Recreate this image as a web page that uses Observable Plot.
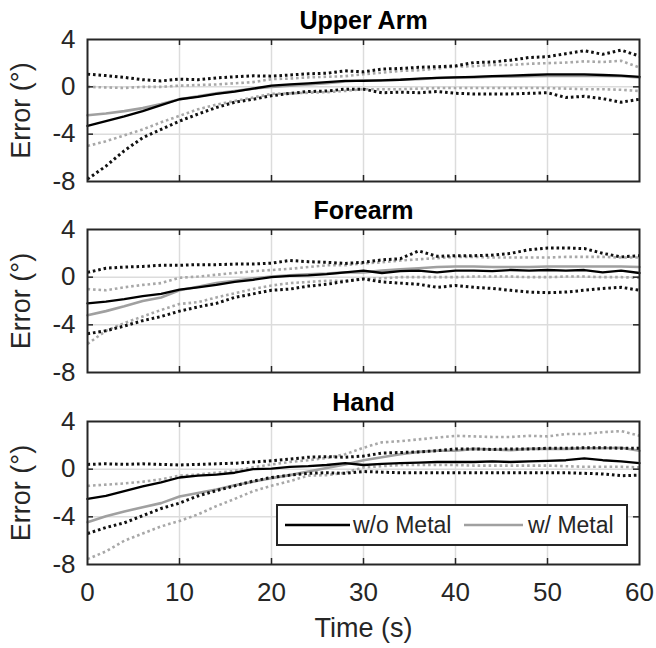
<!DOCTYPE html>
<html><head><meta charset="utf-8">
<script src="https://cdn.jsdelivr.net/npm/d3@7"></script>
<script src="https://cdn.jsdelivr.net/npm/@observablehq/plot@0.6"></script>
<style>
body{margin:0;background:#fff;}
#chart{position:relative;width:656px;height:648px;background:#fff;}
#chart svg{display:block;}
</style></head><body><div id="chart"></div>
<script>
// ---- data ----
const time = [0,2,4,6,8,10,12,14,16,18,20,22,24,26,28,30,32,34,36,38,40,42,44,46,48,50,52,54,56,58,60];
const xTicks = [0,10,20,30,40,50,60];
const yTicks = [-8,-4,0,4];
const panelTitles = ["Upper Arm","Forearm","Hand"];
const seriesNames = ["w/o Metal","w/ Metal"];

// Upper Arm
const uaWoMean  = [-3.3,-2.9,-2.5,-2.05,-1.55,-1.05,-0.85,-0.6,-0.4,-0.15,0.1,0.2,0.3,0.4,0.5,0.5,0.55,0.6,0.7,0.75,0.8,0.85,0.9,0.95,1.0,1.05,1.05,1.05,1.0,0.95,0.85];
const uaWoUpper = [1.07,0.95,0.8,0.6,0.5,0.65,0.6,0.75,0.85,0.93,0.9,1.0,1.1,1.15,1.35,1.27,1.5,1.55,1.65,1.7,1.77,2.05,2.1,2.25,2.48,2.55,2.8,3.05,2.75,3.1,2.6];
const uaWoLower = [-7.8,-6.7,-5.4,-4.3,-3.6,-2.9,-2.3,-1.75,-1.3,-1.05,-0.75,-0.55,-0.4,-0.35,-0.2,-0.2,-0.5,-0.45,-0.5,-0.4,-0.55,-0.6,-0.6,-0.6,-0.55,-0.5,-0.9,-0.8,-1.0,-1.3,-1.05];
const uaWMean   = [-2.4,-2.25,-2.05,-1.8,-1.45,-1.05,-0.8,-0.55,-0.35,-0.15,0.0,0.1,0.2,0.3,0.45,0.55,0.55,0.6,0.65,0.75,0.8,0.8,0.85,0.85,0.9,0.93,0.93,0.95,0.93,0.9,0.8];
const uaWUpper  = [0.0,-0.05,-0.1,0.0,0.0,0.1,0.15,0.2,0.3,0.4,0.65,0.7,0.8,0.85,0.9,1.07,1.2,1.35,1.4,1.55,1.7,1.75,1.85,1.85,1.95,2.0,2.05,2.15,2.1,2.2,1.63];
const uaWLower  = [-5.0,-4.6,-4.1,-3.6,-3.0,-2.45,-1.9,-1.5,-1.2,-0.9,-0.6,-0.55,-0.5,-0.45,-0.35,-0.2,-0.2,-0.2,-0.15,-0.1,-0.1,-0.1,-0.1,-0.1,-0.1,-0.1,-0.15,-0.2,-0.2,-0.25,-0.35];

// Forearm
const faWoMean  = [-2.2,-2.05,-1.85,-1.6,-1.4,-1.05,-0.85,-0.65,-0.4,-0.22,0.0,0.1,0.15,0.25,0.4,0.55,0.35,0.5,0.55,0.4,0.55,0.55,0.5,0.6,0.55,0.6,0.55,0.6,0.4,0.55,0.35];
const faWoUpper = [0.4,0.75,0.85,0.9,1.0,1.0,1.05,1.05,1.1,1.1,1.18,1.4,1.3,1.25,1.15,1.25,1.45,1.55,2.2,1.75,1.8,1.8,1.85,2.0,2.3,2.45,2.45,2.4,2.0,1.7,1.8];
const faWoLower = [-4.75,-4.5,-4.1,-3.65,-3.3,-2.85,-2.5,-2.2,-1.7,-1.4,-1.1,-1.0,-0.75,-0.6,-0.35,-0.15,-0.4,-0.5,-0.6,-0.85,-0.7,-0.85,-0.95,-1.1,-1.25,-1.3,-1.25,-1.1,-0.95,-0.85,-1.1];
const faWMean   = [-3.2,-2.85,-2.45,-2.0,-1.7,-1.1,-0.8,-0.5,-0.3,-0.1,0.05,0.15,0.25,0.3,0.4,0.4,0.55,0.65,0.75,0.85,0.9,0.9,0.85,0.85,0.85,0.9,0.9,0.9,0.9,0.9,0.85];
const faWUpper  = [-1.0,-1.1,-0.85,-0.65,-0.5,-0.05,0.05,0.2,0.35,0.5,0.6,0.7,0.85,1.0,1.0,1.15,1.25,1.4,1.5,1.6,1.7,1.7,1.65,1.65,1.65,1.65,1.7,1.7,1.7,1.65,1.65];
const faWLower  = [-5.6,-4.5,-3.85,-3.3,-2.75,-2.25,-2.1,-1.7,-1.35,-1.0,-0.7,-0.5,-0.4,-0.3,-0.3,-0.15,-0.1,0.0,0.0,0.0,0.0,0.05,0.05,0.05,0.0,0.0,0.05,0.05,0.0,0.0,-0.05];

// Hand
const hdWoMean  = [-2.5,-2.25,-1.85,-1.45,-1.1,-0.7,-0.55,-0.45,-0.3,0.0,0.05,0.2,0.25,0.35,0.5,0.35,0.45,0.5,0.55,0.6,0.6,0.6,0.65,0.6,0.65,0.7,0.75,0.9,0.75,0.65,0.5];
const hdWoUpper = [0.4,0.45,0.4,0.45,0.4,0.35,0.4,0.45,0.5,0.6,0.7,0.85,1.0,1.05,1.0,1.1,1.35,1.4,1.45,1.55,1.7,1.7,1.65,1.7,1.7,1.75,1.75,1.8,1.8,1.75,1.75];
const hdWoLower = [-5.4,-4.9,-4.5,-3.9,-3.3,-2.85,-2.25,-1.8,-1.4,-1.0,-0.7,-0.5,-0.35,-0.3,-0.35,-0.2,-0.25,-0.3,-0.3,-0.3,-0.3,-0.3,-0.3,-0.3,-0.3,-0.3,-0.3,-0.35,-0.4,-0.55,-0.5];
const hdWMean   = [-4.45,-3.95,-3.55,-3.2,-2.85,-2.3,-2.0,-1.7,-1.35,-1.05,-0.75,-0.5,-0.2,0.1,0.4,0.75,1.0,1.25,1.45,1.55,1.55,1.7,1.65,1.6,1.7,1.7,1.7,1.75,1.75,1.8,1.55];
const hdWUpper  = [-1.4,-1.3,-1.2,-1.05,-0.85,-0.55,-0.45,-0.3,-0.15,0.15,0.4,0.6,0.75,0.95,1.25,1.8,2.25,2.35,2.5,2.65,2.8,2.75,2.7,2.7,2.8,2.75,2.95,2.95,3.1,3.2,2.8];
const hdWLower  = [-7.55,-6.9,-6.0,-5.4,-4.8,-4.35,-3.8,-3.1,-2.5,-1.85,-1.4,-1.0,-0.55,-0.5,-0.3,0.15,0.25,0.35,0.35,0.35,0.35,0.3,0.3,0.3,0.3,0.3,0.25,0.2,0.2,0.2,0.15];

const panels = [
  {title: panelTitles[0], woMean: uaWoMean, woUpper: uaWoUpper, woLower: uaWoLower, wMean: uaWMean, wUpper: uaWUpper, wLower: uaWLower},
  {title: panelTitles[1], woMean: faWoMean, woUpper: faWoUpper, woLower: faWoLower, wMean: faWMean, wUpper: faWUpper, wLower: faWLower},
  {title: panelTitles[2], woMean: hdWoMean, woUpper: hdWoUpper, woLower: hdWoLower, wMean: hdWMean, wUpper: hdWUpper, wLower: hdWLower}
];

// ---- layout / style ----
const FONT = "'Liberation Sans', Arial, Helvetica, sans-serif";
const AXIS = "#262626";
const GRAY = "#a0a0a0";
const GRAYDOT = "#a8a8a8";
const GRID = "#dcdcdc";
const layouts = [
  {height: 200, marginTop: 39, marginBottom: 19},
  {height: 192, marginTop: 29, marginBottom: 20},
  {height: 256, marginTop: 29, marginBottom: 84}
];
const fmt = d => String(d);

function makePanel(p, L, last) {
  const H = L.height - L.marginTop - L.marginBottom;
  const rows = (arr) => time.map((t, i) => ({t, v: arr[i]}));
  const dotted = {strokeWidth: 3, strokeDasharray: "2.6 2.9", strokeLinecap: "butt"};
  const inner = xTicks.slice(1, -1);
  const innerY = yTicks.slice(1, -1);
  const marks = [
    Plot.ruleX(inner, {stroke: GRID, strokeWidth: 1.5}),
    Plot.ruleY(innerY, {stroke: GRID, strokeWidth: 1.5}),
    Plot.line(rows(p.wMean), {x: "t", y: "v", stroke: GRAY, strokeWidth: 2.6}),
    Plot.line(rows(p.wUpper), {x: "t", y: "v", stroke: GRAYDOT, ...dotted, strokeWidth: 2.6}),
    Plot.line(rows(p.wLower), {x: "t", y: "v", stroke: GRAYDOT, ...dotted, strokeWidth: 2.6}),
    Plot.line(rows(p.woMean), {x: "t", y: "v", stroke: "#000", strokeWidth: 2.3}),
    Plot.line(rows(p.woUpper), {x: "t", y: "v", stroke: "#111", ...dotted}),
    Plot.line(rows(p.woLower), {x: "t", y: "v", stroke: "#111", ...dotted}),
    // inward ticks (MATLAB box style)
    Plot.ruleX(inner, {stroke: AXIS, strokeWidth: 1.5, insetTop: H - 6}),
    Plot.ruleX(inner, {stroke: AXIS, strokeWidth: 1.5, insetBottom: H - 6}),
    Plot.ruleY(innerY, {stroke: AXIS, strokeWidth: 1.5, insetRight: 552 - 6}),
    Plot.ruleY(innerY, {stroke: AXIS, strokeWidth: 1.5, insetLeft: 552 - 6}),
    Plot.frame({stroke: AXIS, strokeWidth: 2}),
    Plot.axisY(yTicks, {tickSize: 0, tickPadding: 12, tickFormat: fmt, label: null, fill: AXIS, fontSize: 26}),
    last
      ? Plot.axisX(xTicks, {tickSize: 0, tickPadding: 18, tickFormat: fmt, label: null, fill: AXIS, fontSize: 26})
      : Plot.axisX([], {tickSize: 0, label: null}),
    Plot.text([p.title], {frameAnchor: "top", lineAnchor: "middle", textAnchor: "middle", dy: -19, fontWeight: "bold", fontSize: 25, fill: "#000"}),
    Plot.text(["Error (°)"], {frameAnchor: "left", lineAnchor: "middle", textAnchor: "middle", dx: -66, rotate: -90, fontSize: 27, fill: AXIS})
  ];
  if (last) marks.push(Plot.text(["Time (s)"], {frameAnchor: "bottom", lineAnchor: "middle", textAnchor: "middle", dy: 64, fontSize: 27, fill: AXIS}));
  return Plot.plot({
    width: 656, height: L.height,
    marginLeft: 87, marginRight: 17, marginTop: L.marginTop, marginBottom: L.marginBottom,
    style: {fontFamily: FONT, fontSize: "26px", color: AXIS, background: "#fff", overflow: "visible"},
    x: {domain: [0, 60]},
    y: {domain: [-8, 4]},
    marks
  });
}

const chart = document.getElementById("chart");
const svgs = panels.map((p, i) => {
  const s = makePanel(p, layouts[i], i === panels.length - 1);
  chart.appendChild(s);
  return s;
});

// legend inside the Hand panel (bottom-right of the frame)
{
  const L = layouts[2];
  const svg = d3.select(svgs[2]);
  const frameRight = 656 - 17, frameBottom = L.height - L.marginBottom;
  const bx = frameRight - 362, by = frameBottom - 59, bw = 350, bh = 40;
  const g = svg.append("g").attr("font-family", FONT).attr("font-size", 23).attr("text-anchor", "start");
  g.append("rect").attr("x", bx).attr("y", by).attr("width", bw).attr("height", bh)
    .attr("fill", "#fff").attr("stroke", AXIS).attr("stroke-width", 2);
  const cy = by + bh / 2;
  const items = [
    {name: seriesNames[0], color: "#000", x0: bx + 8, x1: bx + 73, tx: bx + 76},
    {name: seriesNames[1], color: GRAY, x0: bx + 187, x1: bx + 246, tx: bx + 251}
  ];
  items.forEach(it => {
    g.append("line").attr("x1", it.x0).attr("x2", it.x1).attr("y1", cy).attr("y2", cy)
      .attr("stroke", it.color).attr("stroke-width", 2.4);
    g.append("text").attr("x", it.tx).attr("y", cy).attr("dy", "0.35em").attr("fill", AXIS)
      .attr("text-anchor", "start").text(it.name);
  });
}
</script>
</body></html>
